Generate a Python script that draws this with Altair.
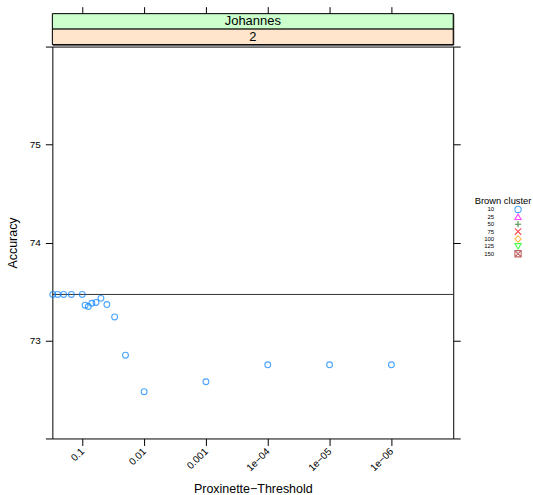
import altair as alt
import pandas as pd

# Accuracy against the Proxinette threshold (Brown cluster size 10)
thresholds = [0.3, 0.25, 0.2, 0.15, 0.1, 0.09, 0.08, 0.07, 0.06, 0.05,
              0.04, 0.03, 0.02, 0.01, 0.001, 1e-4, 1e-5, 1e-6]
accuracy = [73.47, 73.47, 73.47, 73.47, 73.47, 73.36, 73.347, 73.38, 73.388, 73.43,
            73.367, 73.24, 72.85, 72.477, 72.579, 72.752, 72.752, 72.752]
baseline = 73.47

tick_values = [0.1, 0.01, 0.001, 1e-4, 1e-5, 1e-6]
tick_labels = ["0.1", "0.01", "0.001", "1e\u221204", "1e\u221205", "1e\u221206"]
y_ticks = [72, 73, 74, 75, 76]

strip_labels = ["Johannes", "2"]
strip_fills = ["#ccffcc", "#ffe5cc"]

clusters = ["10", "25", "50", "75", "100", "125", "150"]
cluster_colors = ["#0080ff", "#ff00ff", "#006400", "#ff0000", "#ffa500", "#00ff00", "#a52a2a"]
cluster_shapes = [
    "circle",
    "triangle-up",
    "M-1,0H1M0,-1V1",
    "M-1,-1L1,1M-1,1L1,-1",
    "diamond",
    "triangle-down",
    "M-1,-1H1V1H-1ZM-1,-1L1,1M-1,1L1,-1",
]

FONT = "Liberation Sans"
W, H = 402, 393
BOX = alt.ViewBackground(stroke="black", strokeWidth=1)

df = pd.DataFrame({"threshold": thresholds, "accuracy": accuracy})
strip_df = pd.DataFrame({"label": strip_labels, "fill": strip_fills})
legend_df = pd.DataFrame({"cluster": clusters, "idx": list(range(len(clusters)))})
legend_title_df = pd.DataFrame({"title": ["Brown cluster"], "idx": [-1.2]})

x_scale = alt.Scale(type="log", domain=[1e-7, 0.305], reverse=True)
y_scale = alt.Scale(domain=[72, 76], nice=False, zero=False)

label_expr = "".join(
    f"datum.value == {v!r} ? '{l}' : " for v, l in zip(tick_values, tick_labels)
) + "''"

# main panel
rule = alt.Chart(pd.DataFrame({"h": [baseline]})).mark_rule(
    color="#333333", strokeWidth=1
).encode(y=alt.Y("h:Q", scale=y_scale, axis=None))

points = alt.Chart(df).mark_point(
    shape="circle", filled=False, size=34, strokeWidth=1.1, color="#0080ff"
).encode(
    x=alt.X(
        "threshold:Q", scale=x_scale,
        axis=alt.Axis(
            values=tick_values, labelExpr=label_expr, title="Proxinette\u2212Threshold",
            labelAngle=315, labelAlign="right", labelBaseline="middle",
            tickSize=7, tickColor="black", domain=False, grid=False,
            labelFontSize=10, labelFont=FONT, labelColor="black", labelPadding=4,
            titleFontSize=12.5, titleFont=FONT, titleFontWeight="normal",
            titleColor="black", titlePadding=10,
        ),
    ),
    y=alt.Y(
        "accuracy:Q", scale=y_scale, title="Accuracy",
        axis=alt.Axis(
            values=y_ticks,
            labelExpr="datum.value == 72 || datum.value == 76 ? '' : datum.label",
            tickSize=7, tickColor="black", domain=False, grid=False,
            labelFontSize=10, labelFont=FONT, labelColor="black", labelPadding=5,
            titleFontSize=12.5, titleFont=FONT, titleFontWeight="normal",
            titleColor="black", titlePadding=10,
        ),
    ),
)

right_axis = alt.Chart(df).mark_point(opacity=0).encode(
    y=alt.Y(
        "accuracy:Q", scale=y_scale,
        axis=alt.Axis(orient="right", values=y_ticks, labels=False, title=None,
                      tickSize=7, tickColor="black", domain=False, grid=False),
    ),
)

main = alt.layer(rule, points, right_axis).resolve_axis(y="independent").properties(
    width=W, height=H, view=BOX
)

# strips above the panel, with the top tick marks
strip_y = alt.Y("label:N", sort=strip_labels, axis=None,
                scale=alt.Scale(paddingInner=0, paddingOuter=0))
strip_rect = alt.Chart(strip_df).mark_rect(stroke="black", strokeWidth=1).encode(
    x=alt.value(0), x2=alt.value(W), y=strip_y,
    fill=alt.Fill("fill:N", scale=None),
)
strip_text = alt.Chart(strip_df).mark_text(font=FONT, fontSize=13, color="black").encode(
    x=alt.value(W / 2), y=strip_y, text="label:N"
)
top_ticks = alt.Chart(df).mark_point(opacity=0).encode(
    x=alt.X("threshold:Q", scale=x_scale,
            axis=alt.Axis(orient="top", values=tick_values, labels=False, title=None,
                          tickSize=7, tickColor="black", domain=False, grid=False)),
)
strip = alt.layer(strip_rect, strip_text, top_ticks).properties(width=W, height=31, view=BOX)

# key for the Brown cluster sizes
leg_y = alt.Y("idx:Q", axis=None,
              scale=alt.Scale(domain=[-26.53, 8.6], reverse=True, nice=False, zero=False))
leg_labels = alt.Chart(legend_df).mark_text(
    font=FONT, fontSize=6, align="right", color="black"
).encode(x=alt.value(22), y=leg_y, text="cluster:N")
leg_symbols = alt.Chart(legend_df).mark_point(filled=False, size=40, strokeWidth=1.1).encode(
    x=alt.value(46), y=leg_y,
    color=alt.Color("cluster:N", scale=alt.Scale(domain=clusters, range=cluster_colors), legend=None),
    shape=alt.Shape("cluster:N", scale=alt.Scale(domain=clusters, range=cluster_shapes), legend=None),
)
leg_title = alt.Chart(legend_title_df).mark_text(
    font=FONT, fontSize=9.4, align="center", color="black"
).encode(x=alt.value(31), y=leg_y, text="title:N")
key = alt.layer(leg_labels, leg_symbols, leg_title).properties(
    width=60, height=260, view=alt.ViewBackground(stroke="transparent")
)

left = alt.vconcat(strip, main, spacing=0)
chart = alt.hconcat(left, key, spacing=10).properties(
    padding={"left": 5.5, "top": 5, "right": 0, "bottom": 0}
).configure(background="white")

chart.save("out.html", embed_options={"renderer": "svg", "actions": False})
